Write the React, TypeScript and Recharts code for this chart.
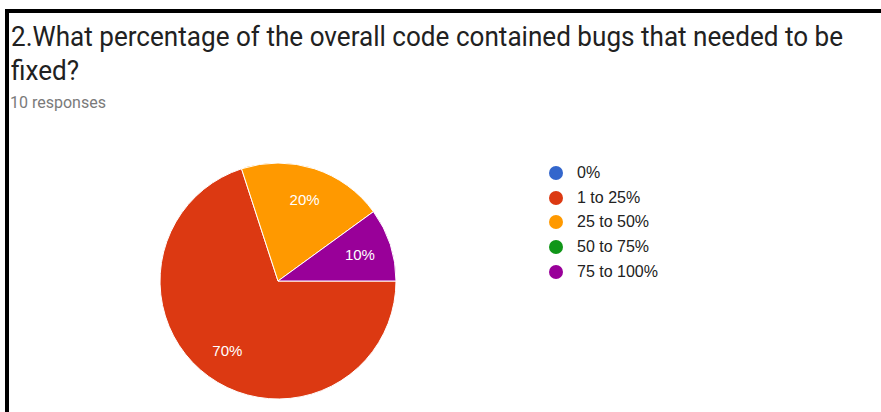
import React from 'react';
import { PieChart, Pie, Cell } from 'recharts';

const categories = ['0%', '1 to 25%', '25 to 50%', '50 to 75%', '75 to 100%'];
const responses = [0, 7, 2, 0, 1];
const colors = ['#3366cc', '#dc3912', '#ff9900', '#109618', '#990099'];

const data = categories.map((name, i) => ({ name, value: responses[i] }));
const total = responses.reduce((a, b) => a + b, 0);

const RADIAN = Math.PI / 180;

const renderLabel = (props: any) => {
  const { cx, cy, midAngle, outerRadius, value } = props;
  if (!value) return null;
  const r = outerRadius * 0.73;
  const x = cx + r * Math.cos(-midAngle * RADIAN);
  const y = cy + r * Math.sin(-midAngle * RADIAN);
  return (
    <text
      x={x}
      y={y}
      fill="#ffffff"
      textAnchor="middle"
      dominantBaseline="central"
      fontSize={15}
      fontFamily="Liberation Sans, Arial, sans-serif"
    >
      {`${Math.round((value / total) * 100)}%`}
    </text>
  );
};

const App = () => {
  return (
    <div
      style={{
        position: 'absolute',
        left: 0,
        top: 0,
        width: 881,
        height: 412,
        background: '#fff',
        overflow: 'hidden',
      }}
    >
      <div
        style={{
          position: 'absolute',
          left: 5,
          top: 9,
          width: 900,
          height: 420,
          borderLeft: '4px solid #000',
          borderTop: '4px solid #000',
        }}
      />
      <div
        style={{
          position: 'absolute',
          left: 11,
          top: 20,
          fontFamily: 'Roboto, sans-serif',
          fontSize: 28,
          lineHeight: '34px',
          color: '#212121',
          whiteSpace: 'nowrap',
          transform: 'scaleX(0.932)',
          transformOrigin: 'left top',
        }}
      >
        <div>2.What percentage of the overall code contained bugs that needed to be</div>
        <div>fixed?</div>
      </div>
      <div
        style={{
          position: 'absolute',
          left: 10,
          top: 93,
          fontFamily: 'Roboto, sans-serif',
          fontSize: 16,
          color: '#7a7a7a',
        }}
      >
        10 responses
      </div>
      <PieChart
        width={881}
        height={412}
        margin={{ top: 0, right: 0, bottom: 0, left: 0 }}
        style={{ position: 'absolute', left: 0, top: 0 }}
      >
        <Pie
          data={data}
          dataKey="value"
          nameKey="name"
          cx={278}
          cy={281}
          outerRadius={118}
          startAngle={360}
          endAngle={0}
          stroke="#ffffff"
          strokeWidth={1}
          label={renderLabel}
          labelLine={false}
          isAnimationActive={false}
        >
          {data.map((d, i) => (
            <Cell key={d.name} fill={colors[i]} />
          ))}
        </Pie>
      </PieChart>
      <div
        style={{
          position: 'absolute',
          left: 549,
          top: 161,
          fontFamily: 'Liberation Sans, Arial, sans-serif',
          fontSize: 16,
          color: '#222',
        }}
      >
        {categories.map((c, i) => (
          <div key={c} style={{ display: 'flex', alignItems: 'center', height: 24.6 }}>
            <svg width={14} height={14} style={{ marginRight: 14 }}>
              <circle cx={7} cy={7} r={7} fill={colors[i]} />
            </svg>
            <span>{c}</span>
          </div>
        ))}
      </div>
    </div>
  );
};

export default App;
